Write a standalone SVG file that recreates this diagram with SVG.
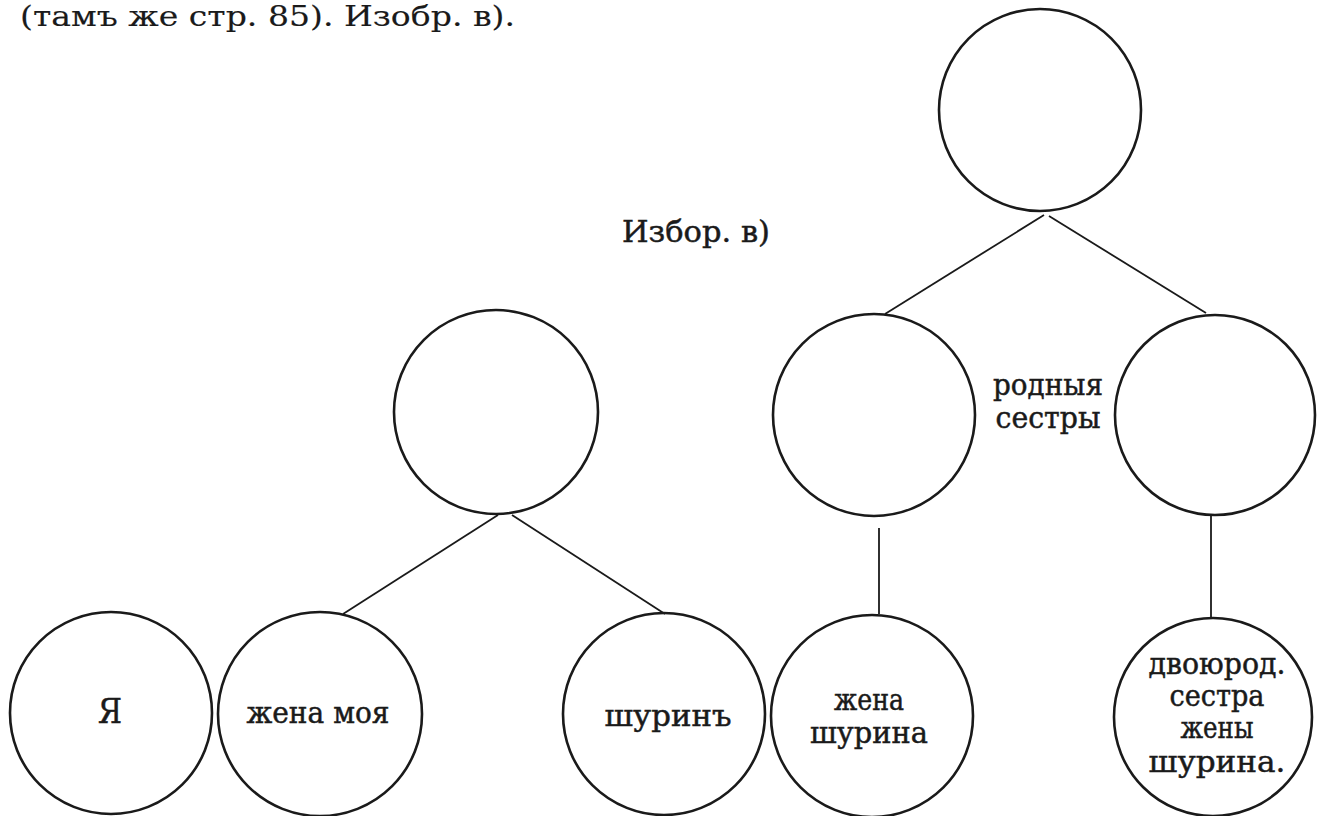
<svg xmlns="http://www.w3.org/2000/svg" width="1320" height="816" viewBox="0 0 1320 816">
<style>
.n{fill:none;stroke:#1a1a1a;stroke-width:2.6}
.c{stroke:#1a1a1a;stroke-width:1.8;fill:none}
text{font-family:"DejaVu Serif","Liberation Serif",serif;font-size:30px;fill:#1a1a1a;stroke:#1a1a1a;stroke-width:0.5}
.m{text-anchor:middle}
.big{font-size:34px}
.hd{font-size:28px;stroke-width:0.15}
</style>
<rect width="1320" height="816" fill="#ffffff"/>
<text class="hd" x="20" y="26" textLength="495" lengthAdjust="spacingAndGlyphs">(тамъ же стр. 85). Изобр. в).</text>
<text x="622" y="242" textLength="148" lengthAdjust="spacingAndGlyphs">Избор. в)</text>
<g id="connectors">
<line class="c" x1="1044" y1="215" x2="885" y2="314"/>
<line class="c" x1="1049" y1="216" x2="1206" y2="313"/>
<line class="c" x1="498" y1="515" x2="343" y2="614"/>
<line class="c" x1="512" y1="515" x2="665" y2="614"/>
<line class="c" x1="879" y1="528" x2="879" y2="614"/>
<line class="c" x1="1211" y1="515" x2="1211" y2="618"/>
</g>
<g id="top"><circle class="n" cx="1040" cy="110" r="101"/></g>
<g id="mid-left"><circle class="n" cx="496" cy="412" r="102"/></g>
<g id="mid-centre"><circle class="n" cx="874" cy="415" r="101"/></g>
<g id="mid-right"><circle class="n" cx="1215" cy="415" r="100"/></g>
<g id="sisters-label">
<text class="m" x="1048" y="395" textLength="110" lengthAdjust="spacingAndGlyphs">родныя</text>
<text class="m" x="1048" y="428" textLength="105" lengthAdjust="spacingAndGlyphs">сестры</text>
</g>
<g id="ya"><circle class="n" cx="111" cy="713" r="101"/>
<text class="m big" x="110" y="723" textLength="24" lengthAdjust="spacingAndGlyphs">Я</text></g>
<g id="zhena-moya"><circle class="n" cx="320" cy="714" r="102"/>
<text class="m" x="318" y="723" textLength="143" lengthAdjust="spacingAndGlyphs">жена моя</text></g>
<g id="shurin"><circle class="n" cx="664" cy="714" r="101"/>
<text class="m" x="668" y="726" textLength="127" lengthAdjust="spacingAndGlyphs">шуринъ</text></g>
<g id="zhena-shurina"><circle class="n" cx="872" cy="716" r="101"/>
<text class="m" x="869" y="710" textLength="70" lengthAdjust="spacingAndGlyphs">жена</text>
<text class="m" x="869" y="743" textLength="118" lengthAdjust="spacingAndGlyphs">шурина</text></g>
<g id="dvoyurod"><circle class="n" cx="1213" cy="717" r="99"/>
<text class="m" x="1217" y="674" textLength="137" lengthAdjust="spacingAndGlyphs">двоюрод.</text>
<text class="m" x="1217" y="706" textLength="95" lengthAdjust="spacingAndGlyphs">сестра</text>
<text class="m" x="1217" y="738" textLength="73" lengthAdjust="spacingAndGlyphs">жены</text>
<text class="m" x="1217" y="772" textLength="137" lengthAdjust="spacingAndGlyphs">шурина.</text></g>
</svg>
